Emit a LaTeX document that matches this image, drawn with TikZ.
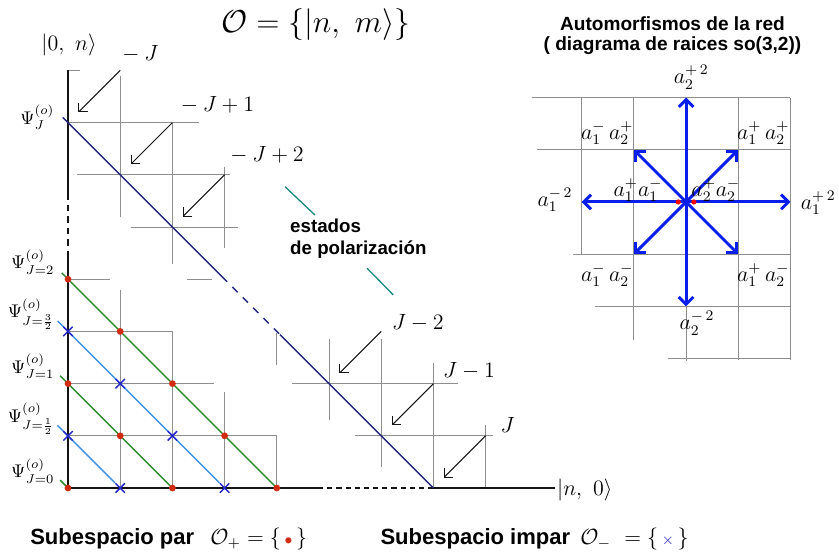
\documentclass[tikz,border=0pt]{standalone}
\usepackage{amsmath,amssymb}
\usepackage{fontspec}
\newfontfamily\arialbf{Liberation Sans}
\usepackage{xcolor}
\usepackage{tikz}
\usetikzlibrary{arrows.meta,calc,positioning}
\definecolor{ink}{HTML}{141414}
\definecolor{gridgray}{HTML}{8E8E8E}
\definecolor{diagnavy}{HTML}{23247E}
\definecolor{evengreen}{HTML}{2C8A2C}
\definecolor{oddblue}{HTML}{3D8FE0}
\definecolor{dotred}{HTML}{D12B12}
\definecolor{crossblue}{HTML}{2525CC}
\definecolor{rootblue}{HTML}{0A1EEA}
\definecolor{tealmark}{HTML}{16877C}

\begin{document}
\begin{tikzpicture}[x=1cm,y=1cm,
  gridline/.style={gridgray,line width=0.5pt},
  axis/.style={ink,line width=1.1pt},
  diag/.style={diagnavy,line width=0.8pt},
  evenline/.style={evengreen,line width=0.8pt},
  oddline/.style={oddblue,line width=0.8pt},
  pointer/.style={ink,line width=0.55pt,-{Straight Barb[length=3.5pt,width=7pt]}},
  root/.style={rootblue,line width=1.6pt,-{Straight Barb[length=4pt,width=8pt]}},
  crossmark/.style={crossblue,line width=0.8pt},
  sanslbl/.style={font=\arialbf\bfseries\fontsize{12}{14}\selectfont,inner sep=0pt}]
  \useasboundingbox (-1.303,-1.303) rectangle (14.77,9.349);

  \node[font=\LARGE] (title) at (4.75,8.87) {$\mathcal{O}=\{|n,\ m\rangle\}$};

  % grid pieces around the diagonal
  \draw[gridline] (0,8)--(0.23,8) (1,7.9)--(1,5.2) (0,7)--(2.5,7) (2,7)--(2,4.3)
    (0.17,6)--(3.1,6) (3,6.15)--(3,4.6) (1.2,5)--(3.25,5)
    (0,4)--(0.8,4) (2.28,4)--(2.76,4);
  \draw[gridline] (1,3.8)--(1,0) (0,3)--(2,3) (2,3)--(2,0) (0,2)--(2.8,2)
    (3,1.84)--(3,0) (0,1)--(4,1) (4,1)--(4,0) (4,2.97)--(4,2.36);
  \draw[gridline] (5,2.85)--(5,1.3) (4.3,2)--(7.47,2) (6,2.85)--(6,0.4)
    (7,2.4)--(7,0) (5.5,1)--(8.14,1) (8,1.2)--(8,0);

  % axes
  \draw[axis] (0,8)--(0,5.65);
  \draw[axis,dash pattern=on 3.6pt off 2.7pt] (0,5.65)--(0,4.46);
  \draw[axis] (0,4.46)--(0,0)--(4.79,0);
  \draw[axis,dash pattern=on 2.8pt off 2.2pt] (4.79,0)--(6.97,0);
  \draw[axis] (6.97,0)--(9.33,0);
  \node[font=\large] (ket0n) at (0.02,8.49) {$|0,\ n\rangle$};
  \node[font=\large] (ketn0) at (9.9,-0.04) {$|n,\ 0\rangle$};

  % polarization line
  \draw[diag] (-0.1,7.1)--(2.95,4.05);
  \draw[diag,dash pattern=on 4pt off 4pt] (2.95,4.05)--(4.06,2.94);
  \draw[diag] (4.06,2.94)--(7,0);

  \foreach \k/\dx/\dy/\lab in {0/-0.06/0.14/{{}-J},1/0.06/0.18/{{}-J+1},2/0.01/0.21/{{}-J+2},
      5/0.2/0/{J-2},6/0.18/0.08/{J-1},7/0.28/0.06/J} {
    \coordinate (s\k) at (\k+1,8-\k);
    \coordinate (t\k) at (\k+0.2,7.2-\k);
    \draw[pointer] (s\k) -- (t\k);
    \node[font=\large,anchor=south west,inner sep=0pt] (m\k) at ([shift={(\dx,\dy)}]s\k) {$\lab$};
  }

  \draw[tealmark,line width=0.7pt] (4.16,5.77)--(4.73,5.23) (5.73,4.21)--(6.23,3.70);
  \node[font=\arialbf\bfseries\fontsize{10.2}{12}\selectfont,align=left,anchor=west,inner sep=0pt]
    (pol) at (4.25,4.77) {estados\\de polarización};

  % lower states
  \draw[evenline] (-0.12,4.12)--(4,0) (-0.15,2.15)--(2,0) (-0.15,0.15)--(0,0);
  \draw[oddline] (-0.2,3.2)--(2.9,0.1) (-0.2,1.2)--(0.9,0.1);
  \foreach \p in {(0,0),(2,0),(4,0),(1,1),(3,1),(0,2),(2,2),(1,3),(0,4)}
    \fill[dotred] \p circle (0.065);
  \foreach \p in {(1,0),(3,0),(0,1),(2,1),(1,2),(0,3)}
    \draw[crossmark] \p ++(-0.09,-0.09) -- ++(0.18,0.18) ++(-0.18,0) -- ++(0.18,-0.18);

  \node[anchor=east,inner sep=1pt] (psiJ) at (-0.22,7.1) {$\Psi^{(o)}_J$};
  \foreach \lev/\jj in {4/2,3/\frac{3}{2},2/1,1/\frac{1}{2},0/0}
    \node[anchor=east,inner sep=1pt] (psi\lev) at (-0.22,\lev+0.33) {$\Psi^{(o)}_{J=\jj}$};

  % root diagram
  \node[font=\arialbf\bfseries\fontsize{10.4}{11}\selectfont,align=center] (auto) at (11.58,8.66)
    {Automorfismos de la red\\( diagrama de raices so(3,2))};
  \begin{scope}[shift={(11.84,5.48)}]
    \draw[gridline] (-2,2)--(-2,-1) (-1,2)--(-1,-2.65) (0,-2)--(0,-3.05)
      (1,2)--(1,-3.03) (2,2)--(2,-3.03);
    \draw[gridline] (-2.95,2)--(2,2) (-2.85,1)--(2,1) (-2.16,-1)--(2,-1)
      (-1.75,-2)--(2,-2) (-0.35,-3)--(2,-3);
    \coordinate (c) at (0,0);
    \foreach \nm/\rx/\ry in {re/2/0,rn/0/2,rw/-2/0,rs/0/-2,rne/1/1,rnw/-1/1,rsw/-1/-1,rse/1/-1} {
      \coordinate (\nm) at (\rx,\ry);
      \draw[root] (c) -- (\nm);
    }
    \fill[red] (-0.15,0) circle (0.05) (0.15,0) circle (0.05);
    \node[font=\large] (an) at (0.1,2.39) {$a_2^{+\,2}$};
    \node[font=\large] (as) at (0.21,-2.32) {$a_2^{-\,2}$};
    \node[font=\large] (aw) at (-2.51,0.04) {$a_1^{-\,2}$};
    \node[font=\large] (ae) at (2.53,-0.02) {$a_1^{+\,2}$};
    \node[font=\large] (anw) at (-1.51,1.32) {$a_1^-\,a_2^+$};
    \node[font=\large] (ane) at (1.48,1.32) {$a_1^+\,a_2^+$};
    \node[font=\large] (asw) at (-1.51,-1.4) {$a_1^-\,a_2^-$};
    \node[font=\large] (ase) at (1.48,-1.4) {$a_1^+\,a_2^-$};
    \node[font=\large] (a11) at (-0.92,0.23) {$a_1^+a_1^-$};
    \node[font=\large] (a22) at (0.57,0.23) {$a_2^+a_2^-$};
  \end{scope}

  % subspaces
  \node[sanslbl,anchor=west] (par) at (-0.73,-0.98) {Subespacio par};
  \node[font=\large,anchor=west,inner sep=0pt] (opar) at (2.72,-0.98)
    {$\mathcal{O}_+=\{\,{\color{dotred}\scriptstyle\bullet}\,\}$};
  \node[sanslbl,anchor=west] (impar) at (5.98,-0.98) {Subespacio impar};
  \node[font=\large,anchor=west,inner sep=0pt] (oimpar) at (9.81,-0.98)
    {$\mathcal{O}_-\ =\{\,{\color{crossblue}\scriptstyle\times}\,\}$};
\end{tikzpicture}
\end{document}
